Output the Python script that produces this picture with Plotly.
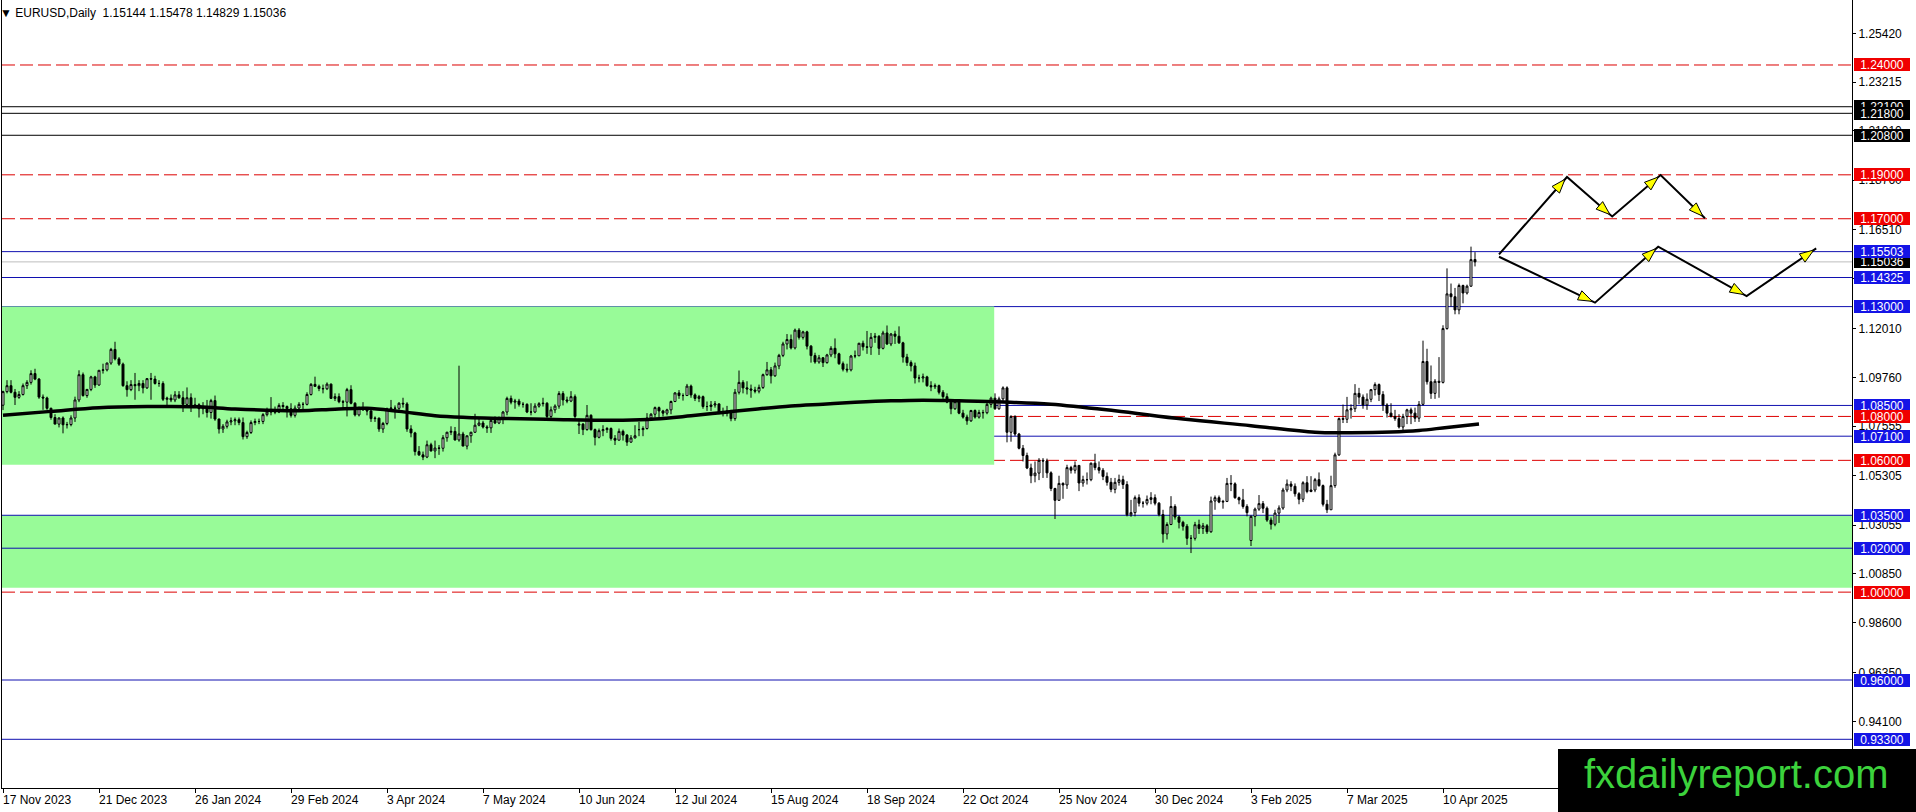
import plotly.graph_objects as go

# ---------------- data ----------------
OPEN = [
    1.0851, 1.0913, 1.0940, 1.0910, 1.0887, 1.0900, 1.0940, 1.0955, 1.0995, 1.0970,
    1.0888, 1.0884, 1.0837, 1.0795, 1.0765, 1.0793, 1.0762, 1.0763, 1.0793, 1.0875,
    1.0990, 1.0895, 1.0923, 1.0980, 1.0943, 1.1010, 1.1012, 1.1043, 1.1105, 1.1062,
    1.1038, 1.0940, 1.0922, 1.0945, 1.0940, 1.0950, 1.0930, 1.0972, 1.0970, 1.0950,
    1.0950, 1.0878, 1.0883, 1.0875, 1.0898, 1.0885, 1.0855, 1.0885, 1.0845, 1.0853,
    1.0835, 1.0845, 1.0818, 1.0872, 1.0788, 1.0743, 1.0755, 1.0775, 1.0780, 1.0785,
    1.0772, 1.0708, 1.0727, 1.0772, 1.0777, 1.0777, 1.0808, 1.0820, 1.0823, 1.0820,
    1.0850, 1.0845, 1.0835, 1.0805, 1.0838, 1.0855, 1.0855, 1.0900, 1.0946, 1.0937,
    1.0927, 1.0926, 1.0947, 1.0882, 1.0890, 1.0867, 1.0865, 1.0922, 1.0860, 1.0807,
    1.0838, 1.0830, 1.0825, 1.0790, 1.0792, 1.0743, 1.0768, 1.0835, 1.0838, 1.0837,
    1.0860, 1.0857, 1.0743, 1.0725, 1.0640, 1.0625, 1.0615, 1.0671, 1.0643, 1.0656,
    1.0655, 1.0703, 1.0728, 1.0732, 1.0693, 1.0720, 1.0665, 1.0712, 1.0728, 1.0760,
    1.0770, 1.0752, 1.0748, 1.0782, 1.0770, 1.0790, 1.0820, 1.0882, 1.0865, 1.0870,
    1.0855, 1.0855, 1.0820, 1.0820, 1.0847, 1.0858, 1.0860, 1.0800, 1.0830, 1.0847,
    1.0904, 1.0875, 1.0870, 1.0890, 1.0760, 1.0765, 1.0740, 1.0805, 1.0740, 1.0705,
    1.0735, 1.0740, 1.0745, 1.0700, 1.0692, 1.0732, 1.0715, 1.0683, 1.0702, 1.0740,
    1.0740, 1.0745, 1.0793, 1.0810, 1.0840, 1.0825, 1.0815, 1.0830, 1.0868, 1.0907,
    1.0895, 1.0895, 1.0938, 1.0898, 1.0882, 1.0890, 1.0845, 1.0845, 1.0852, 1.0857,
    1.0820, 1.0815, 1.0825, 1.0790, 1.0910, 1.0955, 1.0930, 1.0925, 1.0920, 1.0915,
    1.0932, 1.0990, 1.1012, 1.0985, 1.1030, 1.1078, 1.1130, 1.1150, 1.1112, 1.1193,
    1.1160, 1.1185, 1.1120, 1.1077, 1.1048, 1.1067, 1.1045, 1.1080, 1.1110, 1.1085,
    1.1040, 1.1015, 1.1012, 1.1075, 1.1076, 1.1133, 1.1117, 1.1115, 1.1160, 1.1165,
    1.1110, 1.1180, 1.1130, 1.1175, 1.1165, 1.1135, 1.1070, 1.1045, 1.1030, 1.0975,
    1.0975, 1.0980, 1.0940, 1.0935, 1.0940, 1.0910, 1.0890, 1.0865, 1.0835, 1.0867,
    1.0815, 1.0797, 1.0780, 1.0827, 1.0797, 1.0818, 1.0817, 1.0855, 1.0883, 1.0835,
    1.0880, 1.0930, 1.0728, 1.0800, 1.0720, 1.0655, 1.0622, 1.0565, 1.0530, 1.0542,
    1.0600, 1.0597, 1.0543, 1.0472, 1.0418, 1.0495, 1.0488, 1.0567, 1.0555, 1.0577,
    1.0497, 1.0512, 1.0512, 1.0587, 1.0567, 1.0555, 1.0527, 1.0500, 1.0468, 1.0500,
    1.0512, 1.0490, 1.0352, 1.0362, 1.0430, 1.0405, 1.0405, 1.0422, 1.0430, 1.0405,
    1.0353, 1.0265, 1.0308, 1.0390, 1.0342, 1.0318, 1.0300, 1.0245, 1.0245, 1.0307,
    1.0290, 1.0302, 1.0275, 1.0415, 1.0430, 1.0410, 1.0413, 1.0495, 1.0493, 1.0430,
    1.0420, 1.0390, 1.0235, 1.0345, 1.0378, 1.0403, 1.0382, 1.0328, 1.0309, 1.0360,
    1.0383, 1.0465, 1.0492, 1.0482, 1.0448, 1.0423, 1.0498, 1.0458, 1.0465, 1.0512,
    1.0485, 1.0400, 1.0375, 1.0485, 1.0625, 1.0790, 1.0787, 1.0830, 1.0835, 1.0905,
    1.0888, 1.0852, 1.0878, 1.0922, 1.0945, 1.0900, 1.0852, 1.0815, 1.0800, 1.0790,
    1.0752, 1.0800, 1.0830, 1.0815, 1.0792, 1.0855, 1.1050, 1.0958, 1.0905, 1.0960,
    1.0955, 1.1200, 1.1358, 1.1345, 1.1285, 1.1396, 1.1362, 1.1393, 1.15144,
]
HIGH = [
    1.0917, 1.0965, 1.0965, 1.0925, 1.0915, 1.0950, 1.0965, 1.1010, 1.1017, 1.0975,
    1.0900, 1.0890, 1.0840, 1.0810, 1.0795, 1.0800, 1.0775, 1.0805, 1.0890, 1.1010,
    1.1000, 1.0925, 1.0985, 1.0985, 1.1010, 1.1040, 1.1045, 1.1112, 1.1140, 1.1070,
    1.1045, 1.0960, 1.0965, 1.0998, 1.0965, 1.0965, 1.0975, 1.0998, 1.0985, 1.0965,
    1.0960, 1.0890, 1.0900, 1.0915, 1.0915, 1.0915, 1.0932, 1.0905, 1.0885, 1.0860,
    1.0865, 1.0875, 1.0880, 1.0895, 1.0790, 1.0765, 1.0785, 1.0795, 1.0795, 1.0795,
    1.0795, 1.0735, 1.0782, 1.0790, 1.0790, 1.0815, 1.0840, 1.0888, 1.0845, 1.0860,
    1.0865, 1.0850, 1.0860, 1.0850, 1.0865, 1.0865, 1.0910, 1.0952, 1.0981, 1.0945,
    1.0945, 1.0955, 1.0950, 1.0905, 1.0905, 1.0875, 1.0930, 1.0942, 1.0865, 1.0845,
    1.0865, 1.0840, 1.0830, 1.0800, 1.0795, 1.0775, 1.0840, 1.0875, 1.0850, 1.0865,
    1.0885, 1.0865, 1.0760, 1.0730, 1.0665, 1.0640, 1.0690, 1.0680, 1.0690, 1.0670,
    1.0715, 1.0730, 1.0755, 1.0752, 1.1031, 1.0730, 1.0712, 1.0730, 1.0812, 1.0790,
    1.0780, 1.0760, 1.0790, 1.0800, 1.0800, 1.0825, 1.0890, 1.0895, 1.0880, 1.0880,
    1.0865, 1.0860, 1.0860, 1.0860, 1.0865, 1.0885, 1.0865, 1.0845, 1.0855, 1.0915,
    1.0915, 1.0890, 1.0915, 1.0900, 1.0790, 1.0770, 1.0852, 1.0810, 1.0745, 1.0745,
    1.0760, 1.0752, 1.0750, 1.0715, 1.0745, 1.0740, 1.0720, 1.0715, 1.0760, 1.0775,
    1.0755, 1.0815, 1.0815, 1.0845, 1.0845, 1.0830, 1.0835, 1.0872, 1.0910, 1.0920,
    1.0905, 1.0948, 1.0945, 1.0905, 1.0898, 1.0895, 1.0868, 1.0870, 1.0870, 1.0860,
    1.0840, 1.0848, 1.0830, 1.0925, 1.1009, 1.0965, 1.0960, 1.0945, 1.0935, 1.0945,
    1.0995, 1.1048, 1.1025, 1.1045, 1.1085, 1.1140, 1.1175, 1.1173, 1.1200, 1.1202,
    1.1190, 1.1190, 1.1125, 1.1090, 1.1080, 1.1070, 1.1085, 1.1120, 1.1155, 1.1090,
    1.1050, 1.1040, 1.1080, 1.1100, 1.1135, 1.1145, 1.1189, 1.1180, 1.1180, 1.1170,
    1.1190, 1.1214, 1.1180, 1.1190, 1.1210, 1.1140, 1.1085, 1.1055, 1.1045, 1.0990,
    1.0995, 1.0985, 1.0960, 1.0950, 1.0945, 1.0920, 1.0905, 1.0870, 1.0870, 1.0870,
    1.0830, 1.0808, 1.0830, 1.0832, 1.0830, 1.0830, 1.0870, 1.0890, 1.0905, 1.0890,
    1.0937, 1.0937, 1.0805, 1.0805, 1.0725, 1.0670, 1.0635, 1.0585, 1.0595, 1.0610,
    1.0610, 1.0608, 1.0550, 1.0475, 1.0530, 1.0500, 1.0580, 1.0575, 1.0595, 1.0578,
    1.0530, 1.0545, 1.0590, 1.0630, 1.0595, 1.0565, 1.0545, 1.0520, 1.0520, 1.0535,
    1.0530, 1.0505, 1.0420, 1.0440, 1.0445, 1.0415, 1.0440, 1.0455, 1.0445, 1.0410,
    1.0375, 1.0318, 1.0437, 1.0400, 1.0350, 1.0325, 1.0310, 1.0260, 1.0320, 1.0330,
    1.0315, 1.0310, 1.0435, 1.0440, 1.0440, 1.0420, 1.0520, 1.0533, 1.0500, 1.0435,
    1.0470, 1.0400, 1.0350, 1.0385, 1.0442, 1.0415, 1.0390, 1.0340, 1.0375, 1.0395,
    1.0475, 1.0513, 1.0505, 1.0495, 1.0455, 1.0505, 1.0528, 1.0528, 1.0520, 1.0545,
    1.0490, 1.0420, 1.0530, 1.0635, 1.0795, 1.0854, 1.0889, 1.0855, 1.0947, 1.0930,
    1.0900, 1.0905, 1.0925, 1.0955, 1.0950, 1.0915, 1.0860, 1.0860, 1.0830, 1.0810,
    1.0812, 1.0835, 1.0840, 1.0840, 1.0870, 1.1145, 1.1108, 1.1032, 1.0970, 1.1070,
    1.1215, 1.1474, 1.1405, 1.1385, 1.1405, 1.1400, 1.1400, 1.1573, 1.15478,
]
LOW = [
    1.0829, 1.0905, 1.0905, 1.0852, 1.0880, 1.0895, 1.0925, 1.0945, 1.0965, 1.0880,
    1.0830, 1.0830, 1.0785, 1.0765, 1.0750, 1.0723, 1.0745, 1.0755, 1.0775, 1.0865,
    1.0890, 1.0885, 1.0915, 1.0930, 1.0940, 1.0995, 1.1005, 1.1035, 1.1055, 1.1030,
    1.0935, 1.0890, 1.0915, 1.0876, 1.0915, 1.0905, 1.0925, 1.0876, 1.0945, 1.0935,
    1.0870, 1.0845, 1.0865, 1.0865, 1.0880, 1.0820, 1.0850, 1.0820, 1.0838, 1.0795,
    1.0810, 1.0795, 1.0790, 1.0780, 1.0722, 1.0725, 1.0745, 1.0760, 1.0760, 1.0760,
    1.0695, 1.0698, 1.0720, 1.0760, 1.0765, 1.0765, 1.0800, 1.0805, 1.0810, 1.0815,
    1.0825, 1.0795, 1.0795, 1.0795, 1.0830, 1.0830, 1.0850, 1.0895, 1.0935, 1.0915,
    1.0905, 1.0920, 1.0880, 1.0870, 1.0860, 1.0835, 1.0800, 1.0855, 1.0800, 1.0800,
    1.0825, 1.0805, 1.0775, 1.0775, 1.0730, 1.0725, 1.0760, 1.0820, 1.0790, 1.0825,
    1.0840, 1.0730, 1.0705, 1.0622, 1.0620, 1.0601, 1.0610, 1.0640, 1.0610, 1.0625,
    1.0640, 1.0685, 1.0715, 1.0690, 1.0685, 1.0665, 1.0650, 1.0680, 1.0725, 1.0755,
    1.0745, 1.0725, 1.0725, 1.0765, 1.0765, 1.0765, 1.0805, 1.0855, 1.0835, 1.0845,
    1.0840, 1.0815, 1.0805, 1.0815, 1.0840, 1.0845, 1.0790, 1.0790, 1.0815, 1.0835,
    1.0850, 1.0860, 1.0865, 1.0790, 1.0720, 1.0715, 1.0735, 1.0735, 1.0668, 1.0700,
    1.0710, 1.0725, 1.0690, 1.0670, 1.0690, 1.0690, 1.0666, 1.0680, 1.0700, 1.0710,
    1.0710, 1.0740, 1.0785, 1.0795, 1.0790, 1.0800, 1.0805, 1.0810, 1.0865, 1.0880,
    1.0872, 1.0895, 1.0885, 1.0870, 1.0865, 1.0835, 1.0825, 1.0825, 1.0840, 1.0810,
    1.0800, 1.0800, 1.0778, 1.0780, 1.0900, 1.0905, 1.0900, 1.0885, 1.0905, 1.0905,
    1.0925, 1.0985, 1.0950, 1.0980, 1.1015, 1.1070, 1.1105, 1.1105, 1.1105, 1.1150,
    1.1150, 1.1105, 1.1045, 1.1040, 1.1040, 1.1025, 1.1040, 1.1070, 1.1065, 1.1035,
    1.1005, 1.1000, 1.1005, 1.1065, 1.1075, 1.1100, 1.1085, 1.1080, 1.1135, 1.1080,
    1.1105, 1.1125, 1.1120, 1.1130, 1.1130, 1.1045, 1.1030, 1.1005, 1.0950, 1.0955,
    1.0955, 1.0935, 1.0915, 1.0925, 1.0900, 1.0880, 1.0860, 1.0810, 1.0830, 1.0810,
    1.0790, 1.0762, 1.0775, 1.0790, 1.0790, 1.0790, 1.0810, 1.0840, 1.0830, 1.0830,
    1.0870, 1.0682, 1.0685, 1.0710, 1.0650, 1.0595, 1.0560, 1.0496, 1.0500, 1.0510,
    1.0520, 1.0520, 1.0460, 1.0333, 1.0420, 1.0425, 1.0470, 1.0540, 1.0540, 1.0460,
    1.0480, 1.0490, 1.0505, 1.0555, 1.0540, 1.0510, 1.0485, 1.0455, 1.0450, 1.0485,
    1.0470, 1.0345, 1.0343, 1.0345, 1.0390, 1.0385, 1.0395, 1.0400, 1.0395, 1.0345,
    1.0225, 1.0240, 1.0305, 1.0330, 1.0290, 1.0280, 1.0215, 1.0178, 1.0235, 1.0265,
    1.0265, 1.0265, 1.0270, 1.0375, 1.0405, 1.0380, 1.0410, 1.0460, 1.0425, 1.0400,
    1.0380, 1.0345, 1.0210, 1.0300, 1.0370, 1.0360, 1.0320, 1.0285, 1.0300, 1.0315,
    1.0375, 1.0455, 1.0460, 1.0435, 1.0400, 1.0410, 1.0450, 1.0455, 1.0455, 1.0480,
    1.0390, 1.0360, 1.0375, 1.0475, 1.0620, 1.0770, 1.0770, 1.0790, 1.0820, 1.0855,
    1.0835, 1.0830, 1.0865, 1.0895, 1.0870, 1.0825, 1.0795, 1.0795, 1.0780, 1.0745,
    1.0735, 1.0765, 1.0765, 1.0775, 1.0775, 1.0850, 1.0945, 1.0880, 1.0880, 1.0885,
    1.0950, 1.1195, 1.1300, 1.1265, 1.1265, 1.1315, 1.1355, 1.1390, 1.14829,
]
CLOSE = [
    1.0913, 1.0940, 1.0910, 1.0887, 1.0900, 1.0940, 1.0955, 1.0995, 1.0970, 1.0888,
    1.0884, 1.0837, 1.0795, 1.0765, 1.0793, 1.0762, 1.0763, 1.0793, 1.0875, 1.0990,
    1.0895, 1.0923, 1.0980, 1.0943, 1.1010, 1.1012, 1.1043, 1.1105, 1.1062, 1.1038,
    1.0940, 1.0922, 1.0945, 1.0940, 1.0950, 1.0930, 1.0972, 1.0970, 1.0950, 1.0950,
    1.0878, 1.0883, 1.0875, 1.0898, 1.0885, 1.0855, 1.0885, 1.0845, 1.0853, 1.0835,
    1.0845, 1.0818, 1.0872, 1.0788, 1.0743, 1.0755, 1.0775, 1.0780, 1.0785, 1.0772,
    1.0708, 1.0727, 1.0772, 1.0777, 1.0777, 1.0808, 1.0820, 1.0823, 1.0820, 1.0850,
    1.0845, 1.0835, 1.0805, 1.0838, 1.0855, 1.0855, 1.0900, 1.0946, 1.0937, 1.0927,
    1.0926, 1.0947, 1.0882, 1.0890, 1.0867, 1.0865, 1.0922, 1.0860, 1.0807, 1.0838,
    1.0830, 1.0825, 1.0790, 1.0792, 1.0743, 1.0768, 1.0835, 1.0838, 1.0837, 1.0860,
    1.0857, 1.0743, 1.0725, 1.0640, 1.0625, 1.0615, 1.0671, 1.0643, 1.0656, 1.0655,
    1.0703, 1.0728, 1.0732, 1.0693, 1.0720, 1.0665, 1.0712, 1.0728, 1.0760, 1.0770,
    1.0752, 1.0748, 1.0782, 1.0770, 1.0790, 1.0820, 1.0882, 1.0865, 1.0870, 1.0855,
    1.0855, 1.0820, 1.0820, 1.0847, 1.0858, 1.0860, 1.0800, 1.0830, 1.0847, 1.0904,
    1.0875, 1.0870, 1.0890, 1.0800, 1.0765, 1.0740, 1.0805, 1.0740, 1.0705, 1.0735,
    1.0740, 1.0745, 1.0700, 1.0692, 1.0732, 1.0715, 1.0683, 1.0702, 1.0712, 1.0740,
    1.0745, 1.0793, 1.0810, 1.0840, 1.0825, 1.0815, 1.0830, 1.0868, 1.0907, 1.0895,
    1.0895, 1.0938, 1.0898, 1.0882, 1.0890, 1.0845, 1.0845, 1.0852, 1.0857, 1.0820,
    1.0815, 1.0825, 1.0790, 1.0910, 1.0955, 1.0930, 1.0925, 1.0920, 1.0915, 1.0932,
    1.0990, 1.1012, 1.0985, 1.1030, 1.1078, 1.1130, 1.1150, 1.1112, 1.1193, 1.1160,
    1.1185, 1.1120, 1.1077, 1.1048, 1.1067, 1.1045, 1.1080, 1.1110, 1.1085, 1.1040,
    1.1015, 1.1012, 1.1075, 1.1076, 1.1133, 1.1117, 1.1115, 1.1160, 1.1165, 1.1110,
    1.1180, 1.1130, 1.1175, 1.1165, 1.1135, 1.1070, 1.1045, 1.1030, 1.0975, 1.0975,
    1.0980, 1.0940, 1.0935, 1.0940, 1.0910, 1.0890, 1.0865, 1.0835, 1.0867, 1.0815,
    1.0797, 1.0780, 1.0827, 1.0797, 1.0818, 1.0817, 1.0855, 1.0883, 1.0835, 1.0880,
    1.0930, 1.0728, 1.0800, 1.0720, 1.0655, 1.0622, 1.0565, 1.0530, 1.0542, 1.0600,
    1.0597, 1.0543, 1.0472, 1.0418, 1.0495, 1.0488, 1.0567, 1.0555, 1.0577, 1.0497,
    1.0512, 1.0512, 1.0587, 1.0567, 1.0555, 1.0527, 1.0500, 1.0468, 1.0500, 1.0512,
    1.0490, 1.0352, 1.0362, 1.0430, 1.0405, 1.0405, 1.0422, 1.0430, 1.0405, 1.0353,
    1.0265, 1.0308, 1.0390, 1.0342, 1.0318, 1.0300, 1.0245, 1.0245, 1.0307, 1.0290,
    1.0302, 1.0275, 1.0415, 1.0430, 1.0410, 1.0413, 1.0495, 1.0493, 1.0430, 1.0420,
    1.0390, 1.0362, 1.0345, 1.0378, 1.0403, 1.0382, 1.0328, 1.0309, 1.0360, 1.0383,
    1.0465, 1.0492, 1.0482, 1.0448, 1.0423, 1.0498, 1.0458, 1.0465, 1.0512, 1.0485,
    1.0400, 1.0375, 1.0485, 1.0625, 1.0790, 1.0787, 1.0830, 1.0835, 1.0905, 1.0888,
    1.0852, 1.0878, 1.0922, 1.0945, 1.0900, 1.0852, 1.0815, 1.0800, 1.0790, 1.0752,
    1.0800, 1.0830, 1.0815, 1.0792, 1.0855, 1.1050, 1.0958, 1.0905, 1.0960, 1.0955,
    1.1200, 1.1358, 1.1345, 1.1285, 1.1396, 1.1362, 1.1393, 1.1514, 1.15036,
]
BARS = list(range(len(CLOSE)))

SYMBOL_TITLE = "EURUSD,Daily"
LAST_BAR = [1.15144, 1.15478, 1.14829, 1.15036]

X_TICK_BARS = [0, 24, 48, 72, 96, 120, 144, 168, 192, 216, 240, 264, 288, 312, 336, 360]
X_TICK_LABELS = ["17 Nov 2023", "21 Dec 2023", "26 Jan 2024", "29 Feb 2024", "3 Apr 2024",
                 "7 May 2024", "10 Jun 2024", "12 Jul 2024", "15 Aug 2024", "18 Sep 2024",
                 "22 Oct 2024", "25 Nov 2024", "30 Dec 2024", "3 Feb 2025", "7 Mar 2025",
                 "10 Apr 2025"]
Y_TICKS = [1.25420, 1.23215, 1.21010, 1.18760, 1.16510, 1.14260, 1.12010, 1.09760,
           1.07555, 1.05305, 1.03055, 1.00850, 0.98600, 0.96350, 0.94100]

# moving average (thick black line)
MA_BARS = [0, 12, 24, 36, 49, 58, 74, 83, 91, 99, 108, 116, 124, 138, 155, 163, 172, 180,
           188, 197, 205, 213, 222, 230, 239, 250, 262, 278, 295, 312, 328, 337, 347, 354,
           361, 369]
MA_VALUES = [1.0805, 1.0823, 1.0840, 1.0845, 1.0844, 1.0834, 1.0826, 1.0833, 1.0837, 1.0823,
             1.0803, 1.0795, 1.0791, 1.0786, 1.0783, 1.0788, 1.0803, 1.0818, 1.0833, 1.0848,
             1.0856, 1.0864, 1.0871, 1.0874, 1.0871, 1.0866, 1.0856, 1.0826, 1.0788, 1.0758,
             1.0728, 1.0726, 1.0729, 1.0736, 1.0750, 1.0765]

RED_LEVELS = [1.24, 1.19, 1.17, 1.08, 1.06, 1.00]
BLUE_LEVELS = [1.15503, 1.14325, 1.13, 1.085, 1.071, 1.035, 1.02, 0.96, 0.933]
BLACK_LEVELS = [1.221, 1.218, 1.208]
BID_LEVEL = 1.15036

ZONE_UPPER_END_BAR = 247.8
ZONE_UPPER = [1.0580, 1.13]
ZONE_LOWER = [1.0020, 1.035]

UP_PATH_BARS = [374.0, 391.0, 402.3, 414.4, 425.5]
UP_PATH_PRICES = [1.1538, 1.1890, 1.1710, 1.1899, 1.1702]
DOWN_PATH_BARS = [374.0, 398.0, 413.8, 435.9, 453.3]
DOWN_PATH_PRICES = [1.1527, 1.1318, 1.1573, 1.1348, 1.1565]

LOGO_TEXT = "fxdailyreport.com"

# ---------------- geometry / style ----------------
W, H = 1916, 812
ML, MR, MT, MB = 2, 64, 0, 24
PW, PH = W - ML - MR, H - MT - MB
X_RANGE = [-0.25, -0.25 + PW / 4.0]
Y_RANGE = [0.91083, 1.26959]
SX = PW / (X_RANGE[1] - X_RANGE[0])
SY = PH / (Y_RANGE[1] - Y_RANGE[0])

FONT = "Liberation Sans, Arial, sans-serif"
RED_LINE, RED_BOX = "#DD0000", "#F00000"
BLUE_LINE, BLUE_BOX = "#1010B0", "#1414E6"
GREEN = "#98FB98"


def px_to_paper_x(px):
    return (px - ML) / PW


def px_to_paper_y(py):
    return (MT + PH - py) / PH


def arrow_heads(xs, ys, back=3.0, length=14.0, half=5.0):
    tx, ty = [], []
    for i in range(len(xs) - 1):
        x0, y0 = xs[i] * SX, ys[i] * SY
        x1, y1 = xs[i + 1] * SX, ys[i + 1] * SY
        dx, dy = x1 - x0, y1 - y0
        d = (dx * dx + dy * dy) ** 0.5
        ux, uy = dx / d, dy / d
        nx, ny = -uy, ux
        tipx, tipy = x1 - ux * back, y1 - uy * back
        bx, by = tipx - ux * length, tipy - uy * length
        for px, py in [(tipx, tipy), (bx + nx * half, by + ny * half),
                       (bx - nx * half, by - ny * half), (tipx, tipy)]:
            tx.append(px / SX)
            ty.append(py / SY)
        tx.append(None)
        ty.append(None)
    return tx, ty


fig = go.Figure()

fig.add_trace(go.Candlestick(
    x=BARS, open=OPEN, high=HIGH, low=LOW, close=CLOSE,
    increasing=dict(line=dict(color="black", width=1), fillcolor="white"),
    decreasing=dict(line=dict(color="black", width=1), fillcolor="black"),
    whiskerwidth=0, hoverinfo="skip", showlegend=False,
))

fig.add_trace(go.Scatter(
    x=MA_BARS, y=MA_VALUES, mode="lines",
    line=dict(color="black", width=3.5, shape="spline"),
    hoverinfo="skip", showlegend=False,
))

for bx, py in [(UP_PATH_BARS, UP_PATH_PRICES), (DOWN_PATH_BARS, DOWN_PATH_PRICES)]:
    fig.add_trace(go.Scatter(x=bx, y=py, mode="lines",
                             line=dict(color="black", width=2),
                             hoverinfo="skip", showlegend=False))
    hx, hy = arrow_heads(bx, py)
    fig.add_trace(go.Scatter(x=hx, y=hy, mode="lines", fill="toself",
                             fillcolor="#FFFF00", line=dict(color="black", width=1),
                             hoverinfo="skip", showlegend=False))

shapes = []
shapes.append(dict(type="rect", xref="x", yref="y", x0=X_RANGE[0], x1=ZONE_UPPER_END_BAR,
                   y0=ZONE_UPPER[0], y1=ZONE_UPPER[1], fillcolor=GREEN,
                   line=dict(width=0), layer="below"))
shapes.append(dict(type="rect", xref="paper", yref="y", x0=0, x1=1,
                   y0=ZONE_LOWER[0], y1=ZONE_LOWER[1], fillcolor=GREEN,
                   line=dict(width=0), layer="below"))
shapes.append(dict(type="line", xref="paper", yref="y", x0=0, x1=1, y0=BID_LEVEL, y1=BID_LEVEL,
                   line=dict(color="#BEBEBE", width=1), layer="below"))
for lv in RED_LEVELS:
    shapes.append(dict(type="line", xref="paper", yref="y", x0=0, x1=1, y0=lv, y1=lv,
                       line=dict(color=RED_LINE, width=1, dash="13px,5px"), layer="below"))
for lv in BLUE_LEVELS:
    shapes.append(dict(type="line", xref="paper", yref="y", x0=0, x1=1, y0=lv, y1=lv,
                       line=dict(color=BLUE_LINE, width=1), layer="below"))
for lv in BLACK_LEVELS:
    shapes.append(dict(type="line", xref="paper", yref="y", x0=0, x1=1, y0=lv, y1=lv,
                       line=dict(color="black", width=1), layer="below"))
# logo box
shapes.append(dict(type="rect", xref="paper", yref="paper",
                   x0=px_to_paper_x(1558), x1=px_to_paper_x(1920),
                   y0=px_to_paper_y(816), y1=px_to_paper_y(749),
                   fillcolor="black", line=dict(width=0), layer="above"))

annotations = []
# header
annotations.append(dict(
    xref="paper", yref="paper", x=px_to_paper_x(0), y=px_to_paper_y(13),
    xanchor="left", yanchor="middle", showarrow=False,
    text="\u25bc " + SYMBOL_TITLE + "\u00a0\u00a0" + " ".join(f"{v:.5f}" for v in LAST_BAR),
    font=dict(family=FONT, size=12, color="black"), borderpad=0, borderwidth=0,
))
# x-axis labels (left aligned at tick, as in MT4)
for b, t in zip(X_TICK_BARS, X_TICK_LABELS):
    annotations.append(dict(
        xref="x", yref="paper", x=b, y=px_to_paper_y(800),
        xanchor="left", yanchor="middle", showarrow=False, text=t,
        font=dict(family=FONT, size=12, color="black"), borderpad=0, borderwidth=0,
    ))
# price labels on the right axis
label_list = ([(1.24, RED_BOX), (1.221, "black"), (1.218, "black"), (1.208, "black"),
               (1.19, RED_BOX), (1.17, RED_BOX), (BID_LEVEL, "black")]
              + [(v, BLUE_BOX) for v in BLUE_LEVELS[:3]]
              + [(1.085, BLUE_BOX), (1.08, RED_BOX), (1.071, BLUE_BOX), (1.06, RED_BOX),
                 (1.035, BLUE_BOX), (1.02, BLUE_BOX), (1.00, RED_BOX),
                 (0.96, BLUE_BOX), (0.933, BLUE_BOX)])
for v, col in label_list:
    annotations.append(dict(
        xref="paper", yref="y", x=px_to_paper_x(1854), y=v,
        xanchor="left", yanchor="middle", showarrow=False,
        text=f"{v:.5f}", font=dict(family=FONT, size=12, color="white"),
        bgcolor=col, width=56, height=13, borderpad=0, borderwidth=0, align="center",
    ))
# logo text
annotations.append(dict(
    xref="paper", yref="paper", x=px_to_paper_x(1736), y=px_to_paper_y(774),
    xanchor="center", yanchor="middle", showarrow=False, text=LOGO_TEXT,
    font=dict(family=FONT, size=40, color="#3CD23C"),
))

fig.update_layout(
    width=W, height=H,
    margin=dict(l=ML, r=MR, t=MT, b=MB, pad=0),
    paper_bgcolor="white", plot_bgcolor="white",
    showlegend=False, hovermode=False,
    shapes=shapes, annotations=annotations,
    xaxis=dict(range=X_RANGE, showgrid=False, zeroline=False, showline=True,
               linecolor="black", linewidth=1, mirror=True,
               tickmode="array", tickvals=X_TICK_BARS, showticklabels=False,
               ticks="outside", ticklen=4, tickcolor="black",
               rangeslider=dict(visible=False), fixedrange=True),
    yaxis=dict(range=Y_RANGE, side="right", showgrid=False, zeroline=False,
               showline=True, linecolor="black", linewidth=1, mirror=True,
               tickmode="array", tickvals=Y_TICKS,
               ticktext=[f"{v:.5f}" for v in Y_TICKS],
               ticks="outside", ticklen=3, tickcolor="black",
               tickfont=dict(family=FONT, size=12, color="black"), fixedrange=True),
)

fig.write_html("out.html", config={"displayModeBar": False},
               post_script="document.body.style.margin='0';document.body.style.overflow='hidden';")
